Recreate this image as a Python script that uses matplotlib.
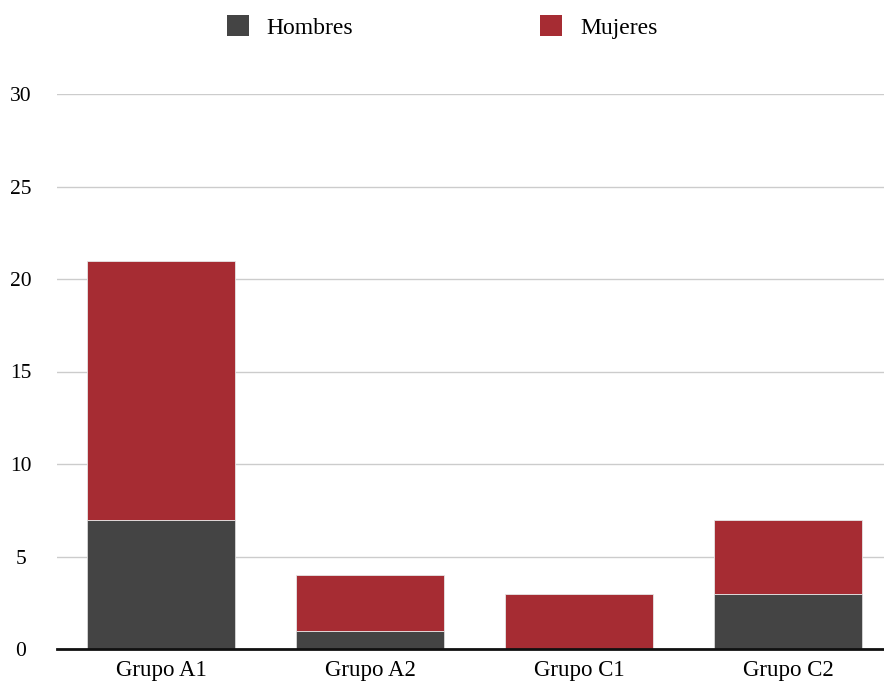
import matplotlib
matplotlib.use("Agg")
import matplotlib.pyplot as plt
from matplotlib.patches import Patch

# Datos por grupo
grupos = ["Grupo A1", "Grupo A2", "Grupo C1", "Grupo C2"]
hombres = [7, 1, 0, 3]
mujeres = [14, 3, 3, 4]
series = ["Hombres", "Mujeres"]
yticks = [0, 5, 10, 15, 20, 25, 30]

col_h = "#444444"
col_m = "#a62c33"

plt.rcParams["font.family"] = ["Liberation Serif", "DejaVu Serif"]

fig = plt.figure(figsize=(8.84, 6.83), dpi=100)
ax = fig.add_axes([57 / 884, 34 / 683, 1 - 57 / 884, (649 - 94) / 683])

x = list(range(len(grupos)))
w = 0.708
ax.bar(x, hombres, width=w, color=col_h, edgecolor="#d8d8d8", linewidth=0.6, zorder=3)
ax.bar(x, mujeres, width=w, bottom=hombres, color=col_m, edgecolor="#e6e6e6",
       linewidth=0.6, zorder=3)

ax.set_xlim(-0.5, 3.46)
ax.set_ylim(0, 30)
ax.set_yticks(yticks)
ax.set_xticks(x)
ax.set_xticklabels(grupos, fontsize=16.5)
ax.tick_params(axis="y", labelsize=15.5, length=0, pad=26)
ax.tick_params(axis="x", length=0, pad=8)
for lab in ax.get_yticklabels():
    lab.set_horizontalalignment("center")

ax.grid(axis="y", color="#cccccc", linewidth=1, zorder=0)
for s in ["top", "right", "left"]:
    ax.spines[s].set_visible(False)
ax.spines["bottom"].set_color("#111111")
ax.spines["bottom"].set_linewidth(2)
ax.spines["bottom"].set_zorder(4)

handles = [Patch(facecolor=col_h), Patch(facecolor=col_m)]
fig.legend(handles, series, loc="center", bbox_to_anchor=(0.5, 1 - 27 / 683),
           ncol=2, frameon=False, fontsize=17, handlelength=0.95, handleheight=0.95,
           handletextpad=0.75, columnspacing=7.9)

fig.savefig("out.png", dpi=100, facecolor="white")
